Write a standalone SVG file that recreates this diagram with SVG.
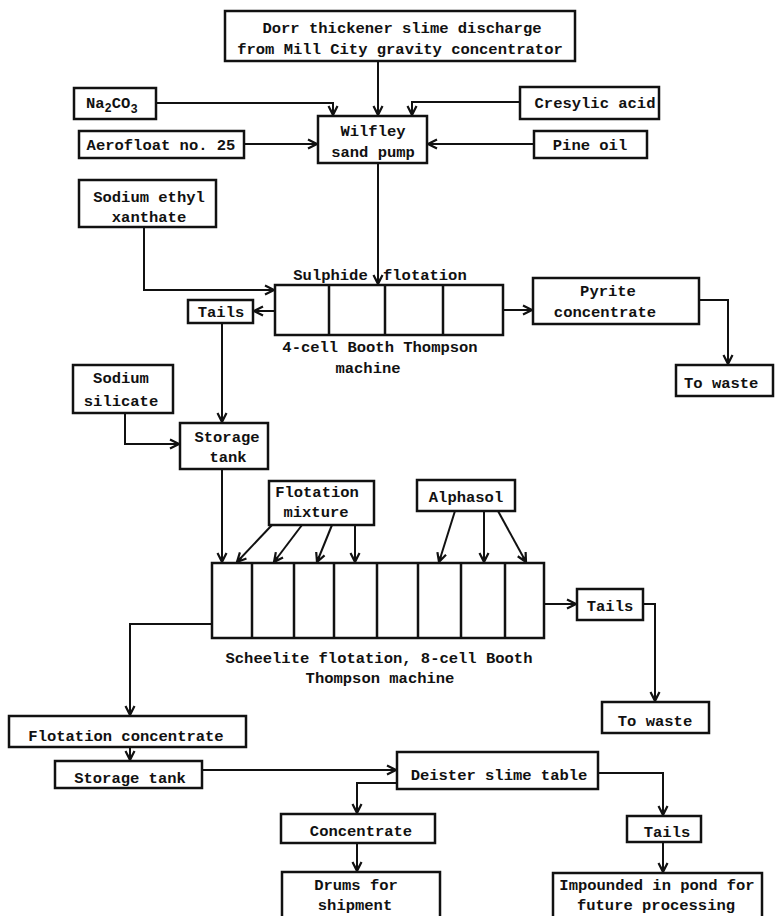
<svg xmlns="http://www.w3.org/2000/svg" width="775" height="916" viewBox="0 0 775 916">
<defs>
<marker id="ah" markerUnits="userSpaceOnUse" markerWidth="12" markerHeight="12" viewBox="0 0 12 12" refX="10" refY="6" orient="auto">
<path d="M1,1.5 L10,6 L1,10.5 M4,6 L10,6" fill="none" stroke="#111" stroke-width="2.2" stroke-linejoin="miter"/>
</marker>
</defs>
<style>
rect{fill:#fff;stroke:#111;stroke-width:2.5}
.cell{fill:none;stroke:#111;stroke-width:2.5}
text{font-family:"Liberation Mono","DejaVu Sans Mono",monospace;font-weight:bold;font-size:15.5px;fill:#111;text-anchor:middle}
.l{text-anchor:start}
#connectors path{fill:none;stroke:#111;stroke-width:2;marker-end:url(#ah)}
</style>
<rect x="0" y="0" width="775" height="916" style="fill:#fff;stroke:none"/>
<g id="connectors">
<path d="M378,61 V115"/>
<path d="M156,103 H333 V115"/>
<path d="M520,102 H412 V115"/>
<path d="M244,144 H317"/>
<path d="M534,144 H428"/>
<path d="M378,163 V284"/>
<path d="M144,227 V290 H274"/>
<path d="M275,311 H254"/>
<path d="M503,310 H532"/>
<path d="M699,300 H728 V364"/>
<path d="M222,323 V422"/>
<path d="M125,413 V444 H179"/>
<path d="M222,469 V562"/>
<path d="M272,525 L237,562"/>
<path d="M302,525 L274,562"/>
<path d="M332,525 L317,562"/>
<path d="M355,525 V562"/>
<path d="M455,511 L439,562"/>
<path d="M484,511 V562"/>
<path d="M498,511 L526,562"/>
<path d="M544,604 H576"/>
<path d="M643,604 H655 V701"/>
<path d="M212,624 H130 V715"/>
<path d="M130,747 V760"/>
<path d="M202,770 H396"/>
<path d="M397,783 H357 V813"/>
<path d="M357,843 V871"/>
<path d="M598,773 H663 V815"/>
<path d="M663,842 V872"/>
</g>
<g id="dorr"><rect x="225" y="11" width="350" height="50"/><text x="402" y="33">Dorr thickener slime discharge</text><text x="400" y="54">from Mill City gravity concentrator</text></g>
<g id="na2co3"><rect x="74" y="88" width="82" height="31"/><text class="l" x="86" y="108">Na<tspan font-size="12" dy="4">2</tspan><tspan dy="-4">CO</tspan><tspan font-size="12" dy="5">3</tspan></text></g>
<g id="aerofloat"><rect x="79" y="131" width="165" height="27"/><text x="161" y="150">Aerofloat no. 25</text></g>
<g id="wilfley"><rect x="318" y="116" width="109" height="47"/><text x="373" y="136">Wilfley</text><text x="373" y="157">sand pump</text></g>
<g id="cresylic"><rect x="520" y="87" width="139" height="32"/><text x="595" y="108">Cresylic acid</text></g>
<g id="pine"><rect x="534" y="131" width="113" height="27"/><text x="590" y="150">Pine oil</text></g>
<g id="xanthate"><rect x="79" y="180" width="137" height="47"/><text x="149" y="202">Sodium ethyl</text><text x="149" y="222">xanthate</text></g>
<g id="sulphide">
<text x="380" y="280">Sulphide <tspan dx="6">flotation</tspan></text>
<rect x="275" y="285" width="228" height="50"/>
<path class="cell" d="M329,285 V335 M385,285 V335 M443,285 V335"/>
<text x="380" y="352">4-cell Booth Thompson</text><text x="368" y="373">machine</text>
</g>
<g id="tails1"><rect x="188" y="300" width="65" height="23"/><text x="221" y="317">Tails</text></g>
<g id="pyrite"><rect x="533" y="278" width="166" height="46"/><text x="608" y="296">Pyrite</text><text x="605" y="317">concentrate</text></g>
<g id="waste1"><rect x="676" y="365" width="97" height="31"/><text class="l" x="684" y="388">To waste</text></g>
<g id="silicate"><rect x="73" y="365" width="100" height="48"/><text x="121" y="383">Sodium</text><text x="121" y="406">silicate</text></g>
<g id="storage1"><rect x="180" y="423" width="88" height="46"/><text x="227" y="442">Storage</text><text x="228" y="462">tank</text></g>
<g id="mixture"><rect x="269" y="481" width="105" height="44"/><text x="317" y="497">Flotation</text><text x="316" y="517">mixture</text></g>
<g id="alphasol"><rect x="417" y="480" width="98" height="31"/><text x="466" y="502">Alphasol</text></g>
<g id="scheelite">
<rect x="212" y="563" width="332" height="75"/>
<path class="cell" d="M252,563 V638 M294,563 V638 M334,563 V638 M377,563 V638 M418,563 V638 M461,563 V638 M505,563 V638"/>
<text x="379" y="663">Scheelite flotation, 8-cell Booth</text><text x="380" y="683">Thompson machine</text>
</g>
<g id="tails2"><rect x="577" y="589" width="66" height="31"/><text x="610" y="611">Tails</text></g>
<g id="waste2"><rect x="602" y="702" width="107" height="31"/><text x="655" y="726">To waste</text></g>
<g id="flotconc"><rect x="9" y="716" width="237" height="31"/><text x="126" y="741">Flotation concentrate</text></g>
<g id="storage2"><rect x="55" y="761" width="147" height="27"/><text x="130" y="783">Storage tank</text></g>
<g id="deister"><rect x="397" y="752" width="201" height="37"/><text x="499" y="780">Deister slime table</text></g>
<g id="concentrate"><rect x="281" y="814" width="154" height="29"/><text x="361" y="836">Concentrate</text></g>
<g id="tails3"><rect x="627" y="816" width="74" height="26"/><text x="667" y="837">Tails</text></g>
<g id="drums"><rect x="282" y="872" width="158" height="50"/><text x="356" y="890">Drums for</text><text x="355" y="910">shipment</text></g>
<g id="impounded"><rect x="553" y="873" width="209" height="50"/><text x="657" y="890">Impounded in pond for</text><text x="656" y="910">future processing</text></g>
</svg>
